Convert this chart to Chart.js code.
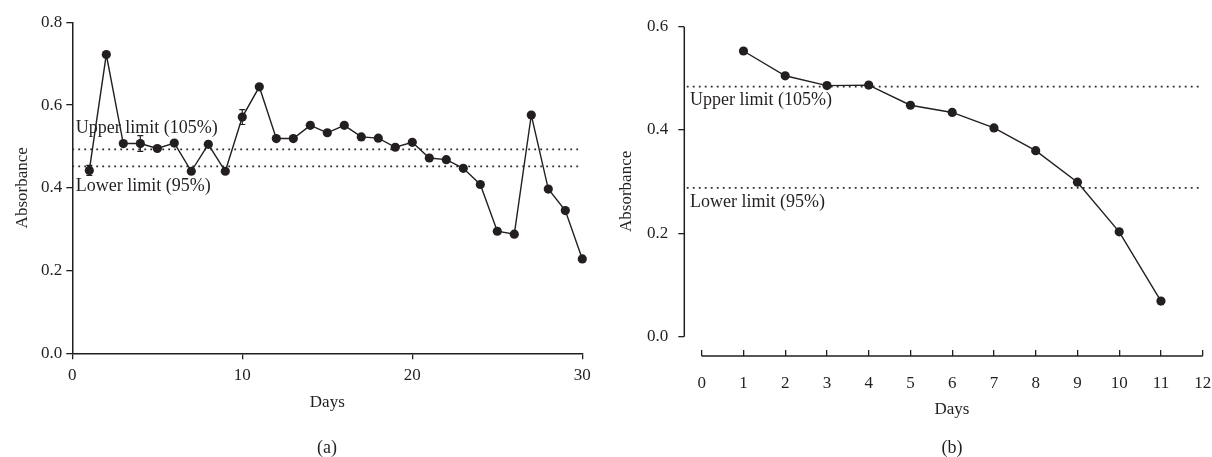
<!DOCTYPE html>
<html>
<head>
<meta charset="utf-8">
<script src="https://cdn.jsdelivr.net/npm/chart.js@4.4.1/dist/chart.umd.min.js"></script>
<style>
    html, body { margin: 0; padding: 0; background: #fff; }
    #wrap { position: relative; width: 1212px; height: 457px; }
    .box { position: absolute; top: 0; width: 606px; height: 457px; }
    .cap { position: absolute; font: 18px "Liberation Serif", serif; color: #231f20; transform: translate(-50%, -50%); white-space: nowrap; }
    .axt { font-size: 17px; }
</style>
</head>
<body>
<div id="wrap">
    <div class="box" style="left:0"><canvas id="chartA" width="606" height="457"></canvas></div>
    <div class="box" style="left:606px"><canvas id="chartB" width="606" height="457"></canvas></div>
    <div class="cap axt" style="left:952px;top:409px">Days</div>
    <div class="cap" style="left:327px;top:447px">(a)</div>
    <div class="cap" style="left:952px;top:447px">(b)</div>
</div>
<script>
// panel (a)
const daysA = [1,2,3,4,5,6,7,8,9,10,11,12,13,14,15,16,17,18,19,20,21,22,23,24,25,26,27,28,29,30];
const absA = [0.442,0.722,0.507,0.507,0.495,0.508,0.440,0.505,0.440,0.571,
              0.644,0.519,0.519,0.551,0.533,0.551,0.523,0.520,0.498,0.510,
              0.472,0.468,0.447,0.408,0.295,0.288,0.576,0.397,0.345,0.228];
const errA = [0.012,0,0,0.019,0,0,0,0,0,0.018,
              0,0,0,0,0,0,0,0,0,0,
              0,0,0,0,0,0,0,0,0,0];
const upperA = 0.493;
const lowerA = 0.452;
const xTicksA = [0,10,20,30];
const yTicksA = [0,0.2,0.4,0.6,0.8];

// panel (b)
const daysB = [1,2,3,4,5,6,7,8,9,10,11];
const absB = [0.553,0.505,0.486,0.487,0.448,0.434,0.404,0.360,0.299,0.203,0.069];
const upperB = 0.484;
const lowerB = 0.288;
const xTicksB = [0,1,2,3,4,5,6,7,8,9,10,11,12];
const yTicksB = [0,0.2,0.4,0.6];

const upperText = "Upper limit (105%)";
const lowerText = "Lower limit (95%)";

const ink = '#231f20';
Chart.defaults.font.family = '"Liberation Serif", "Times New Roman", serif';
Chart.defaults.font.size = 17;
Chart.defaults.color = ink;

let seriesStyle = {
    borderColor: ink,
    backgroundColor: ink,
    borderWidth: 1.4,
    pointRadius: 4.6,
    pointHoverRadius: 4.6,
    pointBorderWidth: 0,
    tension: 0,
    clip: false
};
let limitStyle = {
    borderColor: '#2a2a2a',
    borderWidth: 1.7,
    borderDash: [1.8, 4.2],
    pointRadius: 0,
    clip: false
};

let errorBars = {
    id: 'errorBars',
    afterDatasetsDraw(chart, args, opts) {
        if (!opts.errors) return;
        const ctx = chart.ctx, xs = chart.scales.x, ys = chart.scales.y;
        ctx.save();
        ctx.strokeStyle = ink;
        ctx.lineWidth = 1.2;
        opts.errors.forEach((e, i) => {
            if (!e) return;
            const px = xs.getPixelForValue(opts.x[i]);
            const top = ys.getPixelForValue(opts.y[i] + e);
            const bot = ys.getPixelForValue(opts.y[i] - e);
            ctx.beginPath();
            ctx.moveTo(px, top); ctx.lineTo(px, bot);
            ctx.moveTo(px - 3, top); ctx.lineTo(px + 3, top);
            ctx.moveTo(px - 3, bot); ctx.lineTo(px + 3, bot);
            ctx.stroke();
        });
        ctx.restore();
    }
};

let limitLabels = {
    id: 'limitLabels',
    afterDraw(chart, args, opts) {
        const ctx = chart.ctx, ys = chart.scales.y;
        ctx.save();
        ctx.font = '18px "Liberation Serif", serif';
        ctx.fillStyle = ink;
        ctx.textBaseline = 'middle';
        ctx.textAlign = 'left';
        const x0 = chart.chartArea.left + opts.dx;
        ctx.fillText(upperText, x0, ys.getPixelForValue(opts.upper) + opts.upperDy);
        ctx.fillText(lowerText, x0, ys.getPixelForValue(opts.lower) + opts.lowerDy);
        ctx.restore();
    }
};

// panel (b) has detached axes: y stops at 0.0, x starts at day 0
let offsetAxes = {
    id: 'offsetAxes',
    afterDraw(chart, args, opts) {
        if (!opts.on) return;
        const ctx = chart.ctx, xs = chart.scales.x, ys = chart.scales.y;
        const left = chart.chartArea.left, bottom = chart.chartArea.bottom;
        ctx.save();
        ctx.strokeStyle = ink;
        ctx.lineWidth = 1.5;
        ctx.beginPath();
        ctx.moveTo(left, ys.getPixelForValue(yTicksB[yTicksB.length - 1]));
        ctx.lineTo(left, ys.getPixelForValue(0));
        ctx.moveTo(xs.getPixelForValue(0), bottom);
        ctx.lineTo(xs.getPixelForValue(xTicksB[xTicksB.length - 1]), bottom);
        ctx.stroke();
        ctx.restore();
    }
};

let fixedTicks = (list) => (scale) => { scale.ticks = list.map((v) => ({value: v})); };

// panel (a)
new Chart(document.getElementById('chartA'), {
    type: 'line',
    data: {
        datasets: [
            Object.assign({data: daysA.map((d, i) => ({x: d, y: absA[i]}))}, seriesStyle),
            Object.assign({data: [{x: 0, y: upperA}, {x: 30, y: upperA}]}, limitStyle),
            Object.assign({data: [{x: 0, y: lowerA}, {x: 30, y: lowerA}]}, limitStyle)
        ]
    },
    options: {
        responsive: false,
        animation: false,
        events: [],
        layout: {padding: {left: 0, top: 22.3, right: 23.7, bottom: 0}},
        plugins: {
            legend: {display: false},
            tooltip: {enabled: false},
            errorBars: {errors: errA, x: daysA, y: absA},
            limitLabels: {upper: upperA, lower: lowerA, dx: 3.5, upperDy: -21, lowerDy: 19.5},
            offsetAxes: {on: false}
        },
        scales: {
            x: {
                type: 'linear', min: 0, max: 30,
                afterBuildTicks: fixedTicks(xTicksA),
                afterFit: (s) => { s.height = 103.7; s.paddingLeft = 0; s.paddingRight = 8; },
                grid: {drawOnChartArea: false, tickLength: 6, color: ink, lineWidth: 1.3},
                border: {color: ink, width: 1.5},
                ticks: {padding: 6.5, maxRotation: 0, callback: (v) => String(v)},
                title: {display: true, text: 'Days', padding: {top: 0, bottom: 44}}
            },
            y: {
                min: 0, max: 0.8,
                afterBuildTicks: fixedTicks(yTicksA),
                afterFit: (s) => { s.width = 72.3; },
                grid: {drawOnChartArea: false, tickLength: 6, color: ink, lineWidth: 1.3},
                border: {color: ink, width: 1.5},
                ticks: {padding: 4, callback: (v) => v.toFixed(1)},
                title: {display: true, text: 'Absorbance', padding: {top: 12, bottom: 0}}
            }
        }
    },
    plugins: [errorBars, limitLabels, offsetAxes]
});

// panel (b)
const xMinB = -0.417;
const yMinB = -0.0374;
new Chart(document.getElementById('chartB'), {
    type: 'line',
    data: {
        datasets: [
            Object.assign({data: daysB.map((d, i) => ({x: d, y: absB[i]}))}, seriesStyle),
            Object.assign({data: [{x: xMinB + 0.06, y: upperB}, {x: 12, y: upperB}]}, limitStyle),
            Object.assign({data: [{x: xMinB + 0.06, y: lowerB}, {x: 12, y: lowerB}]}, limitStyle)
        ]
    },
    options: {
        responsive: false,
        animation: false,
        events: [],
        layout: {padding: {left: 0, top: 26.7, right: 9.3, bottom: 0}},
        plugins: {
            legend: {display: false},
            tooltip: {enabled: false},
            errorBars: {},
            limitLabels: {upper: upperB, lower: lowerB, dx: 5.7, upperDy: 13.3, lowerDy: 14},
            offsetAxes: {on: true}
        },
        scales: {
            x: {
                type: 'linear', min: xMinB, max: 12,
                afterBuildTicks: fixedTicks(xTicksB),
                // tick padding is large here, keep it out of the side padding
                afterFit: (s) => { s.height = 101; s.paddingLeft = 0; s.paddingRight = 8; },
                grid: {drawOnChartArea: false, tickLength: -6, color: ink, lineWidth: 1.3},
                border: {display: false},
                ticks: {padding: 23, maxRotation: 0, autoSkip: false, callback: (v) => String(v)},
                title: {display: false}
            },
            y: {
                min: yMinB, max: 0.6,
                afterBuildTicks: fixedTicks(yTicksB),
                afterFit: (s) => { s.width = 78.3; },
                grid: {drawOnChartArea: false, tickLength: 6, color: ink, lineWidth: 1.3},
                border: {display: false},
                ticks: {padding: 10, callback: (v) => v.toFixed(1)},
                title: {display: true, text: 'Absorbance', padding: {top: 10.5, bottom: 0}}
            }
        }
    },
    plugins: [errorBars, limitLabels, offsetAxes]
});
</script>
</body>
</html>
